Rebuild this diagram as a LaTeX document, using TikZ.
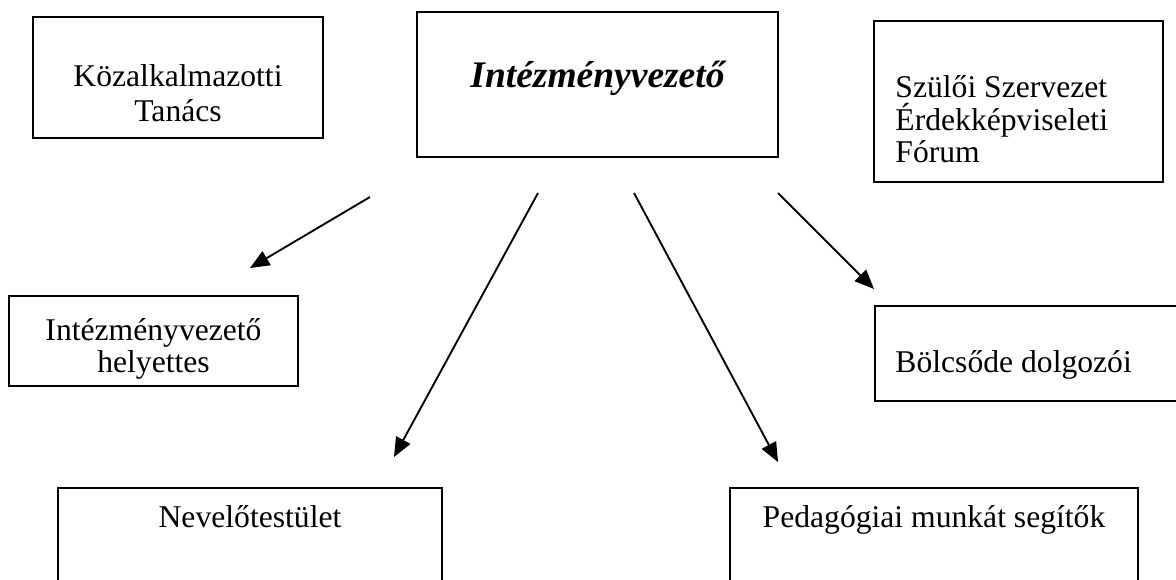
\documentclass[tikz,border=0pt]{standalone}
\usepackage{fontspec}
\setmainfont{Liberation Serif}
\usetikzlibrary{positioning}
\usetikzlibrary{arrows.meta}

\begin{document}
\begin{tikzpicture}[x=0.015cm, y=-0.015cm,
    box/.style={draw, line width=0.7pt, inner sep=0pt},
    txt/.style={font=\fontsize{13.5}{15}\selectfont, inner sep=0pt},
    arr/.style={line width=0.8pt, -{Triangle[length=0.29cm, width=0.24cm]}}]
    \clip (0,0) rectangle (1176,580);

    % boxes
    \node[box, minimum width=4.35cm, minimum height=1.815cm] (kt) at (178,77.5) {};
    \node[box, minimum width=5.415cm, minimum height=2.175cm] (iv) at (597.5,84.5) {};
    \node[box, minimum width=4.335cm, minimum height=2.415cm] (szsz) at (1018.5,101.5) {};
    \node[box, minimum width=4.335cm, minimum height=1.35cm] (ivh) at (153.5,341) {};
    \node[box, minimum width=4.725cm, minimum height=1.425cm] (bd) at (1032.5,353.5) {};
    \node[box, minimum width=5.76cm, minimum height=1.68cm] (nt) at (250,544) {};
    \node[box, minimum width=6.12cm, minimum height=1.68cm] (pms) at (934,544) {};

    % texts (multi-line: base = last line)
    \node[txt, align=center, anchor=base] (kt-t) at (178,122) {Közalkalmazotti\\Tanács};
    \node[txt, font=\fontsize{16}{18}\selectfont\bfseries\itshape, anchor=base] (iv-t) at (597.5,88) {Intézményvezető};
    \node[txt, font=\fontsize{13.5}{14}\selectfont, align=left, anchor=base west] (szsz-t) at (895,163) {Szülői Szervezet\\Érdekképviseleti\\Fórum};
    \node[txt, font=\fontsize{13.5}{14}\selectfont, align=center, anchor=base] (ivh-t) at (153.5,373) {Intézményvezető\\helyettes};
    \node[txt, anchor=base west] (bd-t) at (895,373) {Bölcsőde dolgozói};
    \node[txt, anchor=base] (nt-t) at (250,528) {Nevelőtestület};
    \node[txt, anchor=base] (pms-t) at (934,528) {Pedagógiai munkát segítők};

    % arrows
    \coordinate (a1s) at (370,197);
    \coordinate (a1e) at (250,268);
    \coordinate (a2s) at (538,193);
    \coordinate (a2e) at (394,457);
    \coordinate (a3s) at (634,193);
    \coordinate (a3e) at (778,462);
    \coordinate (a4s) at (778,193);
    \coordinate (a4e) at (874,289);
    \draw[arr] (a1s) -- (a1e);
    \draw[arr] (a2s) -- (a2e);
    \draw[arr] (a3s) -- (a3e);
    \draw[arr] (a4s) -- (a4e);
\end{tikzpicture}
\end{document}
